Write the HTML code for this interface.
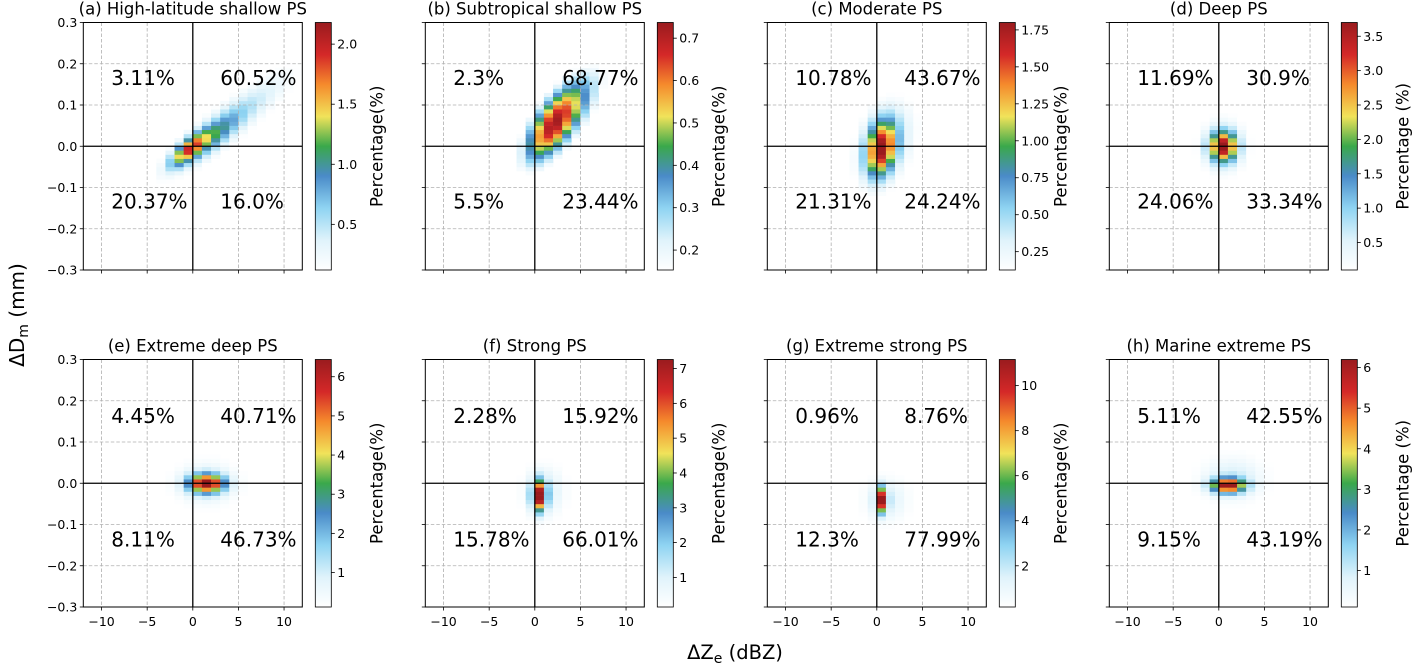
<!DOCTYPE html>
<html><head><meta charset="utf-8"><style>
html,body{margin:0;padding:0;background:#fff;}
svg text{font-family:"DejaVu Sans","Liberation Sans",sans-serif;fill:#000;}
</style></head><body>
<svg id="s" width="1413" height="663" viewBox="0 0 1413 663" xmlns="http://www.w3.org/2000/svg">
<defs>
<linearGradient id="cm" x1="0" y1="1" x2="0" y2="0">
<stop offset="0" stop-color="#ffffff"/><stop offset="0.12" stop-color="#e0f3fb"/>
<stop offset="0.25" stop-color="#8fd4f2"/><stop offset="0.38" stop-color="#4a8bc8"/>
<stop offset="0.5" stop-color="#3aa84b"/><stop offset="0.62" stop-color="#f1e35a"/>
<stop offset="0.75" stop-color="#f58a2c"/><stop offset="0.87" stop-color="#d42828"/>
<stop offset="1" stop-color="#9a1b1e"/>
</linearGradient>
</defs>
</svg>
<script>
const S=[[0,[255,255,255]],[0.12,[224,243,251]],[0.25,[143,212,242]],[0.38,[74,139,200]],[0.5,[58,168,75]],[0.62,[241,227,90]],[0.75,[245,138,44]],[0.87,[212,40,40]],[1,[154,27,30]]];
function cmap(t){t=Math.max(0,Math.min(1,t));for(let i=1;i<S.length;i++){if(t<=S[i][0]){const a=S[i-1],b=S[i],f=(t-a[0])/(b[0]-a[0]);return 'rgb('+a[1].map((c,k)=>Math.round(c+(b[1][k]-c)*f)).join(',')+')';}}return 'rgb(154,27,30)';}
const P=[
{t:'(a) High-latitude shallow PS',q:['3.11%','60.52%','20.37%','16.0%'],vmin:0.12,vmax:2.18,ticks:[0.5,1.0,1.5,2.0],d:1,lab:'Percentage(%)',c:[[0.55,4,0.06,4.5,0.016,0.035],[0.6,2,0.02,2,0.016,0.025],[1.4,-0.5,-0.008,1.3,0.016,0.018]]},
{t:'(b) Subtropical shallow PS',q:['2.3%','68.77%','5.5%','23.44%'],vmin:0.153,vmax:0.737,ticks:[0.2,0.3,0.4,0.5,0.6,0.7],d:1,lab:'Percentage(%)',c:[[0.5,1.8,0.05,2.2,0.02,0.05],[0.28,4,0.09,3.2,0.02,0.06]]},
{t:'(c) Moderate PS',q:['10.78%','43.67%','21.31%','24.24%'],vmin:0.126,vmax:1.8,ticks:[0.25,0.5,0.75,1.0,1.25,1.5,1.75],d:2,lab:'Percentage(%)',c:[[1.5,0.5,-0.005,1.1,0.01,0.045],[0.4,1,0.01,2.5,0.01,0.07]]},
{t:'(d) Deep PS',q:['11.69%','30.9%','24.06%','33.34%'],vmin:0.1,vmax:3.7,ticks:[0.5,1.0,1.5,2.0,2.5,3.0,3.5],d:1,lab:'Percentage (%)',c:[[3.5,0.5,0,1.0,0,0.025],[0.5,0.5,0,1.7,0,0.045]]},
{t:'(e) Extreme deep PS',q:['4.45%','40.71%','8.11%','46.73%'],vmin:0.12,vmax:6.44,ticks:[1,2,3,4,5,6],d:0,lab:'Percentage(%)',c:[[6.3,1.5,0,1.3,0,0.015],[1,1.5,0,2.2,0,0.035]]},
{t:'(f) Strong PS',q:['2.28%','15.92%','15.78%','66.01%'],vmin:0.15,vmax:7.26,ticks:[1,2,3,4,5,6,7],d:0,lab:'Percentage(%)',c:[[7,0.5,-0.03,0.5,0,0.025],[1.2,1,-0.02,1.5,0,0.04]]},
{t:'(g) Extreme strong PS',q:['0.96%','8.76%','12.3%','77.99%'],vmin:0.17,vmax:11.16,ticks:[2,4,6,8,10],d:0,lab:'Percentage(%)',c:[[11,0.5,-0.04,0.4,0,0.02],[1.5,1,-0.04,1.6,0,0.035]]},
{t:'(h) Marine extreme PS',q:['5.11%','42.55%','9.15%','43.19%'],vmin:0.1,vmax:6.2,ticks:[1,2,3,4,5,6],d:0,lab:'Percentage (%)',c:[[6,1,-0.005,1.2,0,0.012],[1,1.5,0.01,2.2,0,0.035]]}
];
let h='';const W=219,H=247.5;
const fmt=(v,d)=>{let s=Math.abs(v).toFixed(d);return (v<-1e-9?'−':'')+s;};
P.forEach((p,i)=>{
 const col=i%4,row=Math.floor(i/4);
 const L=83.3+342*col,T=row?359.5:22.5;
 const X=x=>L+(x+12)/24*W, Y=y=>T+(0.3-y)/0.6*H;
 for(let ix=-12;ix<12;ix++)for(let iy=-30;iy<30;iy++){
  const x=ix+0.5,y=(iy+0.5)*0.01;let v=0;
  p.c.forEach(([A,cx,cy,sx,sl,sr])=>{const dx=(x-cx)/sx,r=(y-cy-sl*(x-cx))/sr;v+=A*Math.exp(-0.5*(dx*dx+r*r));});
  if(v<p.vmin)continue;
  const t=(v-p.vmin)/(p.vmax-p.vmin);
  h+=`<rect x="${X(ix).toFixed(2)}" y="${Y((iy+1)*0.01).toFixed(2)}" width="${(W/24+0.3).toFixed(2)}" height="${(H/60+0.3).toFixed(2)}" fill="${cmap(t)}"/>`;
 }
 [-10,-5,5,10].forEach(x=>h+=`<line x1="${X(x)}" y1="${T}" x2="${X(x)}" y2="${T+H}" stroke="#b0b0b0" stroke-width="0.8" stroke-dasharray="3.5,2"/>`);
 [-0.2,-0.1,0.1,0.2].forEach(y=>h+=`<line x1="${L}" y1="${Y(y)}" x2="${L+W}" y2="${Y(y)}" stroke="#b0b0b0" stroke-width="0.8" stroke-dasharray="3.5,2"/>`);
 h+=`<line x1="${X(0)}" y1="${T}" x2="${X(0)}" y2="${T+H}" stroke="#000" stroke-width="1.3"/>`;
 h+=`<line x1="${L}" y1="${Y(0)}" x2="${L+W}" y2="${Y(0)}" stroke="#000" stroke-width="1.3"/>`;
 h+=`<rect x="${L}" y="${T}" width="${W}" height="${H}" fill="none" stroke="#000" stroke-width="1"/>`;
 [-10,-5,0,5,10].forEach(x=>{h+=`<line x1="${X(x)}" y1="${T+H}" x2="${X(x)}" y2="${T+H+3.5}" stroke="#000" stroke-width="0.8"/>`;
  if(row)h+=`<text x="${X(x)}" y="${T+H+19}" font-size="12.5" text-anchor="middle">${fmt(x,0)}</text>`;});
 [-0.3,-0.2,-0.1,0,0.1,0.2,0.3].forEach(y=>{h+=`<line x1="${L-3.5}" y1="${Y(y)}" x2="${L}" y2="${Y(y)}" stroke="#000" stroke-width="0.8"/>`;
  if(!col)h+=`<text x="${L-6}" y="${Y(y)+4.5}" font-size="12.5" text-anchor="end">${fmt(y,1)}</text>`;});
 h+=`<text x="${L+W/2}" y="${T-8}" font-size="16.5" text-anchor="middle">${p.t}</text>`;
 const yu=T+(row?56.5:55.5)+7, yl=T+(row?179.8:179)+7;
 h+=`<text x="${L+28}" y="${yu}" font-size="20">${p.q[0]}</text>`;
 h+=`<text x="${L+137}" y="${yu}" font-size="20">${p.q[1]}</text>`;
 h+=`<text x="${L+28}" y="${yl}" font-size="20">${p.q[2]}</text>`;
 h+=`<text x="${L+137}" y="${yl}" font-size="20">${p.q[3]}</text>`;
 const cx=315.3+342*col;
 h+=`<rect x="${cx}" y="${T}" width="16" height="${H}" fill="url(#cm)" stroke="#000" stroke-width="0.8"/>`;
 p.ticks.forEach(v=>{const y=T+H-(v-p.vmin)/(p.vmax-p.vmin)*H;
  h+=`<line x1="${cx+16}" y1="${y}" x2="${cx+19.5}" y2="${y}" stroke="#000" stroke-width="0.8"/>`;
  h+=`<text x="${cx+22}" y="${y+4.5}" font-size="12.5">${v.toFixed(p.d)}</text>`;});
 h+=`<text transform="translate(${cx+67},${T+H/2}) rotate(-90)" font-size="16.5" text-anchor="middle">${p.lab}</text>`;
});
h+=`<text transform="translate(24,315) rotate(-90)" font-size="20" text-anchor="middle">ΔD<tspan font-size="14" dy="4">m</tspan><tspan dy="-4"> (mm)</tspan></text>`;
h+=`<text x="735" y="659" font-size="19.5" text-anchor="middle">ΔZ<tspan font-size="14" dy="4">e</tspan><tspan dy="-4"> (dBZ)</tspan></text>`;
document.getElementById('s').insertAdjacentHTML('beforeend',h);
</script>
</body></html>
